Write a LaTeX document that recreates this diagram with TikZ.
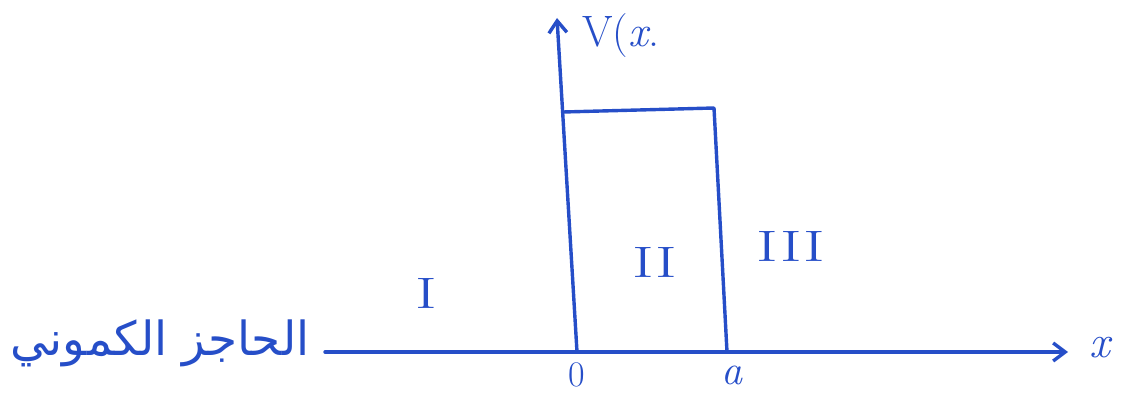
\documentclass[tikz,border=0pt]{standalone}
\usepackage{fontspec}
\newfontfamily\arabicfont[Script=Arabic]{DejaVu Sans}
\TeXXeTstate=1
\usetikzlibrary{arrows.meta}
\definecolor{ink}{RGB}{38,78,200}
\begin{document}
\begin{tikzpicture}[x=1pt,y=-1pt,
  inkline/.style={draw=ink,line width=3.4pt,line cap=round,line join=round},
  axisarrow/.style={inkline,-{Straight Barb[length=12pt,width=18pt,line width=3.4pt]}},
  lbl/.style={text=ink,inner sep=0pt,font=\fontsize{38}{42}\selectfont},
  roman/.style={lbl,font=\fontsize{44}{48}\selectfont,xscale=1.5}]
\useasboundingbox (0,0) rectangle (1126,393);
% coordinates
\coordinate (xs) at (325,352);
\coordinate (xe) at (1068,352);
\coordinate (o) at (577,352);
\coordinate (yt) at (557,18);
\coordinate (tl) at (563,112);
\coordinate (tr) at (714,108);
\coordinate (br) at (727,352);
% axes
\draw[axisarrow] (xs) -- (xe);
\draw[axisarrow] (o) -- (yt);
% barrier
\draw[inkline] (tl) -- (tr) -- (br);
% labels
\node[lbl,anchor=west,font=\fontsize{44}{48}\selectfont] (vx) at (582,36) {V(\textit{x}.};
\node[lbl,font=\fontsize{46}{50}\selectfont\itshape] (xl) at (1100,348) {x};
\node[lbl,font=\fontsize{36}{40}\selectfont] (zero) at (577,375) {0};
\node[lbl,font=\fontsize{42}{46}\selectfont\itshape] (al) at (732,375) {a};
\node[roman] (r1) at (426,293) {I};
\node[roman] (r2) at (655,262) {II};
\node[roman] (r3) at (791,246) {III};
\node[lbl,font=\fontsize{47}{52}\selectfont\arabicfont] (ar) at (160,343) {\beginR الحاجز الكموني\endR};
\end{tikzpicture}
\end{document}
